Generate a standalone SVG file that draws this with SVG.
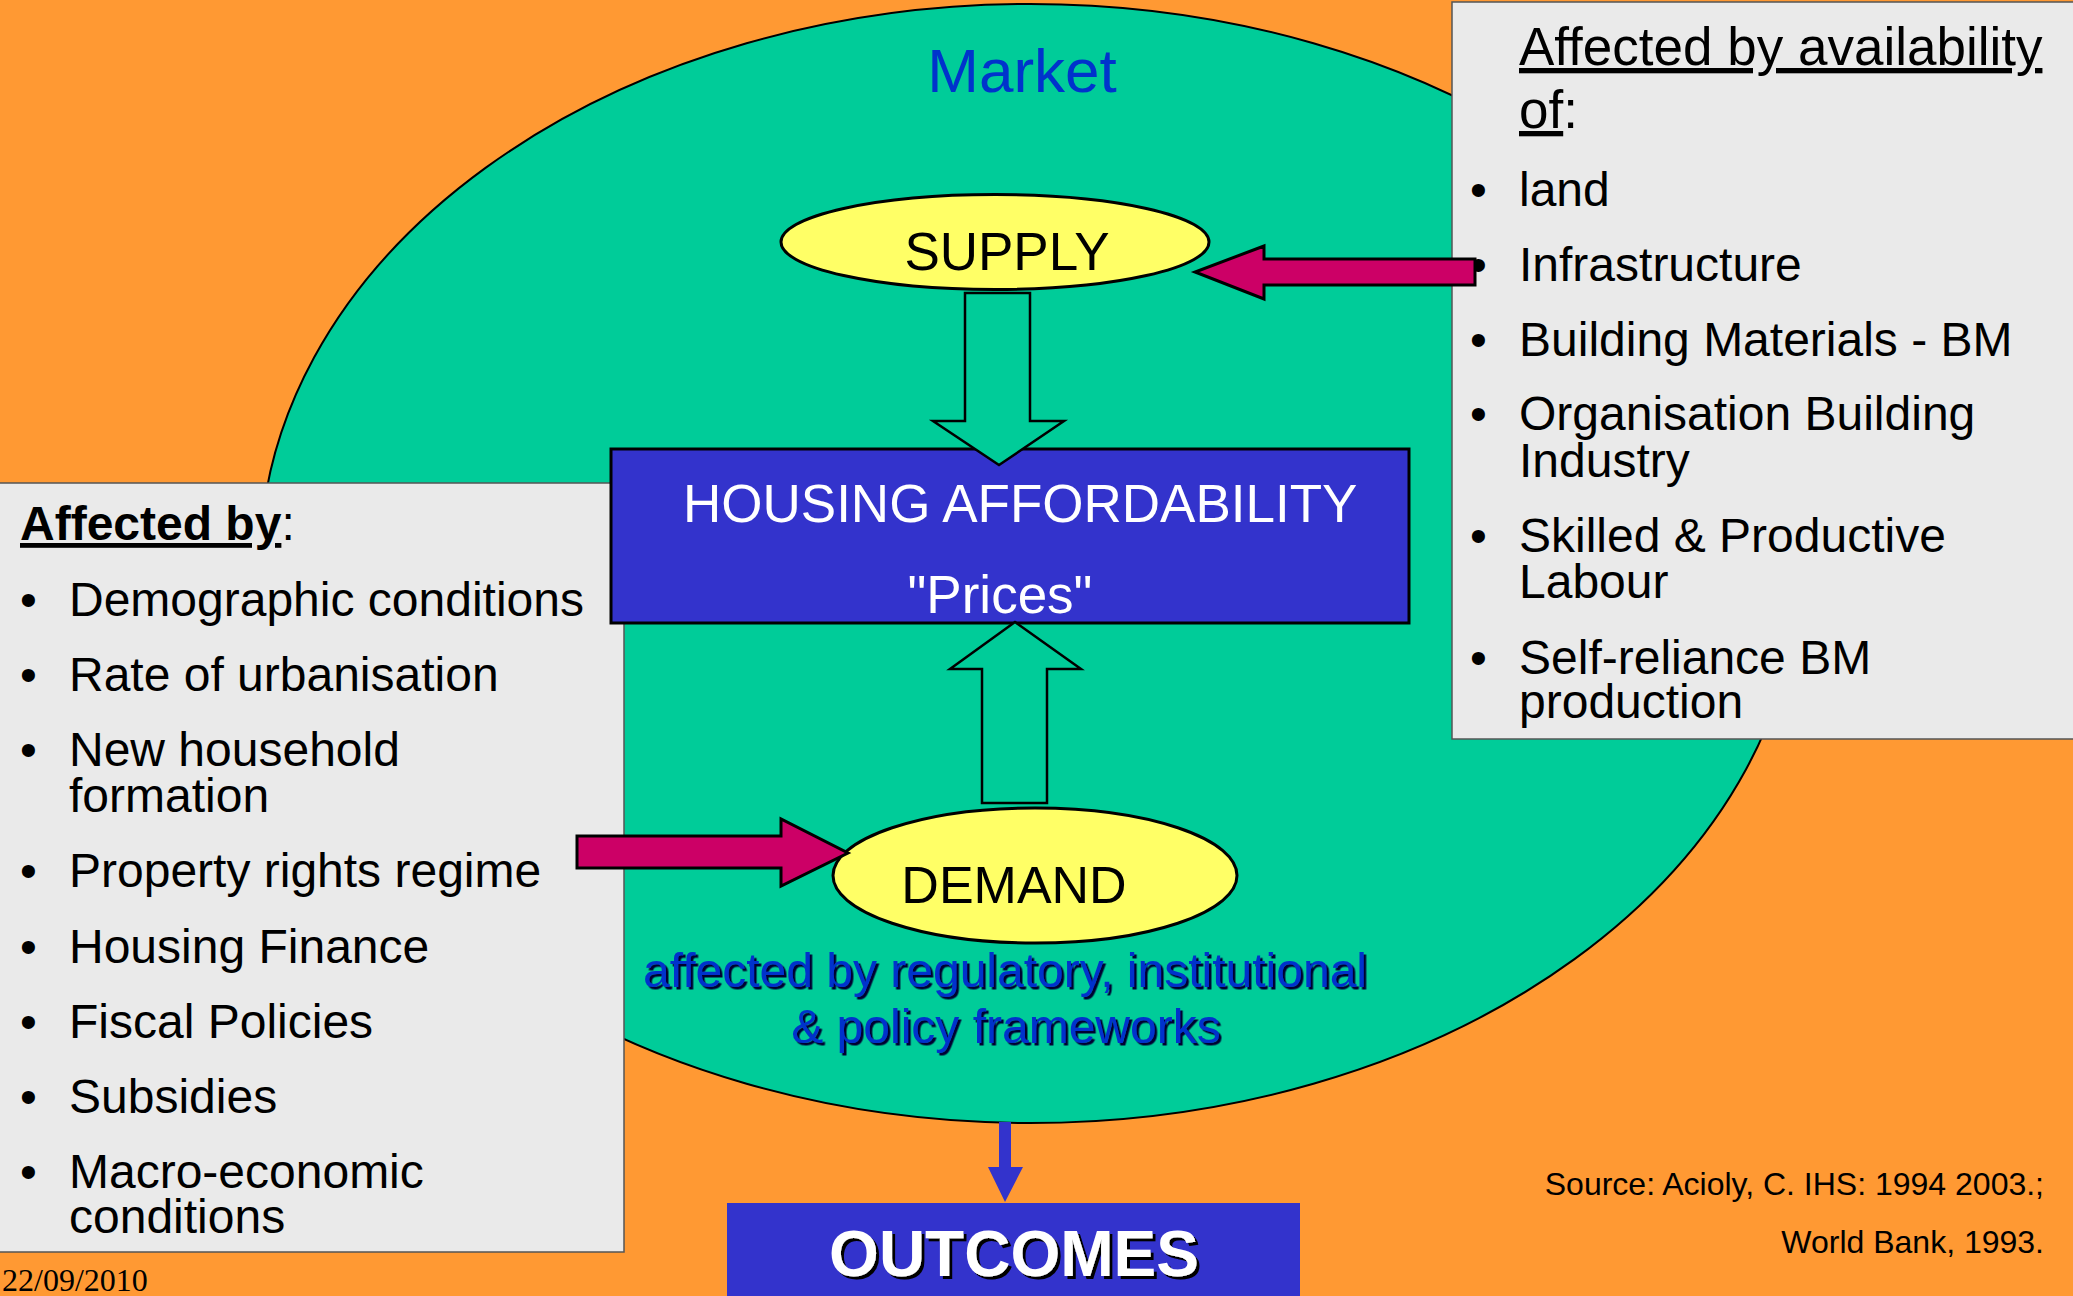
<svg xmlns="http://www.w3.org/2000/svg" width="2073" height="1296" viewBox="0 0 2073 1296">
  <defs>
    <style>
      .sans { font-family: "Liberation Sans", Arial, sans-serif; }
      .item { font-family: "Liberation Sans", Arial, sans-serif; font-size: 48px; fill: #000; }
      .bul { font-family: "Liberation Sans", Arial, sans-serif; font-size: 48px; fill: #000; }
      .oval { fill: #FFFF66; stroke: #000; stroke-width: 3; }
      .hollow { fill: #00CC99; stroke: #000; stroke-width: 2.5; stroke-linejoin: miter; }
      .pink { fill: #CC0066; stroke: #000; stroke-width: 3; stroke-linejoin: miter; }
      .panel { fill: #EAEAEA; stroke: #555; stroke-width: 1.5; }
      .label { font-family: "Liberation Sans", Arial, sans-serif; fill: #000; }
    </style>
    <filter id="shadowBlue" x="-5%" y="-20%" width="110%" height="140%">
      <feDropShadow dx="2.5" dy="2.5" stdDeviation="0" flood-color="#000033" flood-opacity="1"/>
    </filter>
    <filter id="shadowDark" x="-5%" y="-20%" width="110%" height="140%">
      <feDropShadow dx="3" dy="3" stdDeviation="0" flood-color="#000000" flood-opacity="1"/>
    </filter>
  </defs>

  <rect x="0" y="0" width="2073" height="1296" fill="#FF9933"/>

  <g id="market">
    <ellipse cx="1030" cy="563.5" rx="770" ry="559.5" fill="#00CC99" stroke="#000" stroke-width="2"/>
    <text x="1022" y="92" text-anchor="middle" class="sans" font-size="62" fill="#0033CC">Market</text>
  </g>

  <g id="demand-factors">
    <rect x="-2" y="483" width="626" height="769" class="panel"/>
    <text x="20" y="540" class="sans" font-size="48"><tspan font-weight="bold" text-decoration="underline">Affected by</tspan>:</text>
    <g class="bul">
      <text x="20" y="616">•</text>
      <text x="20" y="691">•</text>
      <text x="20" y="766">•</text>
      <text x="20" y="887">•</text>
      <text x="20" y="963">•</text>
      <text x="20" y="1038">•</text>
      <text x="20" y="1113">•</text>
      <text x="20" y="1188">•</text>
    </g>
    <g class="item">
      <text x="69" y="616">Demographic conditions</text>
      <text x="69" y="691">Rate of urbanisation</text>
      <text x="69" y="766">New household</text>
      <text x="69" y="812">formation</text>
      <text x="69" y="887">Property rights regime</text>
      <text x="69" y="963">Housing Finance</text>
      <text x="69" y="1038">Fiscal Policies</text>
      <text x="69" y="1113">Subsidies</text>
      <text x="69" y="1188">Macro-economic</text>
      <text x="69" y="1233">conditions</text>
    </g>
  </g>

  <g id="supply-factors">
    <rect x="1452" y="2" width="640" height="737" class="panel"/>
    <text x="1519" y="65" class="sans" font-size="53" text-decoration="underline">Affected by availability</text>
    <text x="1519" y="128" class="sans" font-size="53"><tspan text-decoration="underline">of</tspan>:</text>
    <g class="bul">
      <text x="1470" y="206">•</text>
      <text x="1470" y="281">•</text>
      <text x="1470" y="356">•</text>
      <text x="1470" y="430">•</text>
      <text x="1470" y="552">•</text>
      <text x="1470" y="674">•</text>
    </g>
    <g class="item">
      <text x="1519" y="206">land</text>
      <text x="1519" y="281">Infrastructure</text>
      <text x="1519" y="356">Building Materials - BM</text>
      <text x="1519" y="430">Organisation Building</text>
      <text x="1519" y="477">Industry</text>
      <text x="1519" y="552">Skilled &amp; Productive</text>
      <text x="1519" y="598">Labour</text>
      <text x="1519" y="674">Self-reliance BM</text>
      <text x="1519" y="718">production</text>
    </g>
  </g>

  <g id="supply">
    <ellipse cx="995" cy="242" rx="214" ry="47.5" class="oval"/>
    <text x="1007" y="270" text-anchor="middle" class="label" font-size="53">SUPPLY</text>
  </g>

  <g id="housing-affordability">
    <rect x="611" y="449" width="798" height="174" fill="#3333CC" stroke="#000" stroke-width="3"/>
    <text x="683" y="522" class="sans" font-size="53" fill="#FFFFFF">HOUSING AFFORDABILITY</text>
    <text x="1000" y="613" text-anchor="middle" class="sans" font-size="53" fill="#FFFFFF">"Prices"</text>
  </g>

  <g id="demand">
    <ellipse cx="1035" cy="875.5" rx="202" ry="67.5" class="oval"/>
    <text x="1014" y="903" text-anchor="middle" class="label" font-size="52">DEMAND</text>
    <g filter="url(#shadowBlue)">
      <text x="1005" y="987" text-anchor="middle" class="sans" font-size="48" fill="#0033CC">affected by regulatory, institutional</text>
      <text x="1006" y="1043" text-anchor="middle" class="sans" font-size="48" fill="#0033CC">&amp; policy frameworks</text>
    </g>
  </g>

  <g id="outcomes">
    <rect x="727" y="1203" width="573" height="100" fill="#3333CC"/>
    <text x="1014" y="1276" text-anchor="middle" class="sans" font-size="64" font-weight="bold" fill="#FFFFFF" filter="url(#shadowDark)">OUTCOMES</text>
  </g>

  <g id="connectors">
    <path class="hollow" d="M965,293 H1030 V421 H1064 L999,465 L933,421 H965 Z"/>
    <path class="hollow" d="M1015,622 L1081,669 H1047 V803 H982 V669 H950 Z"/>
    <path class="pink" d="M1475,259 V285 H1264 V299 L1195,272 L1264,246 V259 Z"/>
    <path class="pink" d="M577,836 H781 V819 L848,853 L781,886 V868 H577 Z"/>
    <path fill="#3333CC" d="M999,1122 H1011 V1167 H1023 L1005,1202 L988,1167 H999 Z"/>
  </g>

  <g id="source">
    <text x="2044" y="1195" text-anchor="end" class="sans" font-size="32" fill="#000">Source: Acioly, C. IHS: 1994 2003.;</text>
    <text x="2044" y="1253" text-anchor="end" class="sans" font-size="32" fill="#000">World Bank, 1993.</text>
  </g>

  <g id="date">
    <text x="2" y="1291" font-family="'Liberation Serif', 'Times New Roman', serif" font-size="32" fill="#000">22/09/2010</text>
  </g>
</svg>
